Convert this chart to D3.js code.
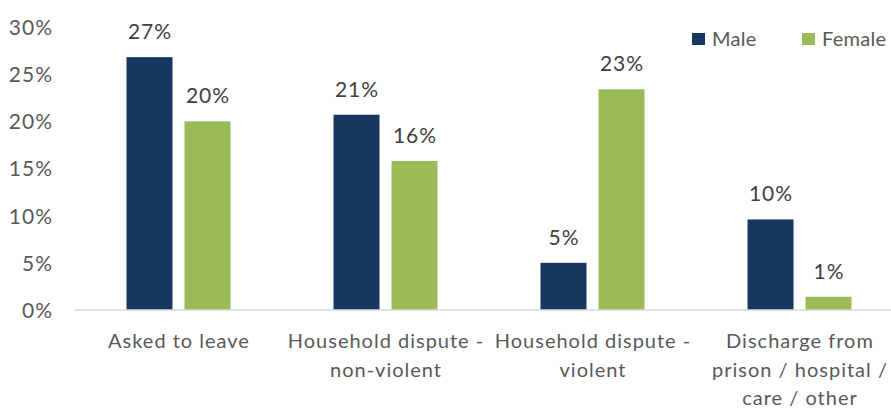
<!DOCTYPE html>
<html>
<head>
<meta charset="utf-8">
<script src="https://cdn.jsdelivr.net/npm/d3@7"></script>
<style>
  html, body { margin: 0; padding: 0; background: #fff; overflow: hidden; }
  svg { display: block; font-family: Lato, "Liberation Sans", sans-serif; }
  svg text { letter-spacing: 1px; }
  svg text.legend { letter-spacing: 0.3px; }
</style>
</head>
<body>
<svg id="chart" width="891" height="409"></svg>
<script>
// Reasons for leaving last settled accommodation, by gender (%)
const categories = [
  ["Asked to leave"],
  ["Household dispute -", "non-violent"],
  ["Household dispute -", "violent"],
  ["Discharge from", "prison / hospital /", "care / other"]
];
const series = ["Male", "Female"];
const maleValues = [26.8, 20.7, 5.0, 9.6];
const femaleValues = [20.0, 15.8, 23.4, 1.4];
const yTicks = [0, 5, 10, 15, 20, 25, 30];

const colors = { Male: "#17375E", Female: "#9BBB59" };
const values = { Male: maleValues, Female: femaleValues };
const fontSize = "20px";

const svg = d3.select("#chart");

const x0 = d3.scaleBand()
  .domain(d3.range(categories.length))
  .range([75, 903])
  .paddingInner(0).paddingOuter(0);

const x1 = d3.scaleBand()
  .domain(series)
  .range([0, x0.bandwidth()])
  .paddingInner(12 / 58)
  .paddingOuter(0.888);

const y = d3.scaleLinear().domain([0, 30]).range([310, 27]);

// Y axis tick labels (no axis line, no gridlines)
const yAxis = d3.axisLeft(y).tickValues(yTicks).tickSize(0).tickPadding(0)
  .tickFormat(d => d + "%");
const yg = svg.append("g").attr("transform", "translate(53,0)").call(yAxis);
yg.select(".domain").remove();
yg.selectAll("text")
  .attr("fill", "#595959")
  .style("font-size", "21px")
  .style("font-family", "Lato, 'Liberation Sans', sans-serif")
  .attr("dy", "0.35em");

// Bars
const groups = svg.append("g").selectAll("g")
  .data(categories.map((c, i) => i))
  .join("g")
  .attr("transform", i => `translate(${x0(i)},0)`);

groups.selectAll("rect")
  .data(i => series.map(s => ({ s, v: values[s][i] })))
  .join("rect")
  .attr("x", d => x1(d.s))
  .attr("width", x1.bandwidth())
  .attr("y", d => y(d.v))
  .attr("height", d => y(0) - y(d.v))
  .attr("fill", d => colors[d.s]);

// Data labels
groups.selectAll("text.val")
  .data(i => series.map(s => ({ s, v: values[s][i] })))
  .join("text")
  .attr("class", "val")
  .attr("x", d => x1(d.s) + x1.bandwidth() / 2 + 0.5)
  .attr("y", d => y(d.v) - 18)
  .attr("text-anchor", "middle")
  .attr("fill", "#404040")
  .style("font-size", "21px")
  .text(d => Math.round(d.v) + "%");

// Baseline
svg.append("line")
  .attr("x1", 75).attr("x2", 903)
  .attr("y1", y(0)).attr("y2", y(0))
  .attr("stroke", "#D9D9D9").attr("stroke-width", 1.5);

// Category labels (wrapped)
const xg = svg.append("g").selectAll("text")
  .data(categories)
  .join("text")
  .attr("x", (d, i) => x0(i) + x0.bandwidth() / 2 + 0.5)
  .attr("y", 348)
  .attr("text-anchor", "middle")
  .attr("fill", "#595959")
  .style("font-size", fontSize);
xg.selectAll("tspan")
  .data(d => d)
  .join("tspan")
  .attr("x", function () { return this.parentNode.getAttribute("x"); })
  .attr("dy", (d, j) => j === 0 ? 0 : 28.5)
  .text(d => d);

// Legend
const legend = svg.append("g");
const legendX = { Male: 692, Female: 802 };
series.forEach(s => {
  legend.append("rect")
    .attr("x", legendX[s]).attr("y", 33)
    .attr("width", 13).attr("height", 12)
    .attr("fill", colors[s]);
  legend.append("text")
    .attr("class", "legend")
    .attr("x", legendX[s] + 20).attr("y", 39)
    .attr("dy", "0.35em")
    .attr("fill", "#595959")
    .style("font-size", fontSize)
    .text(s);
});
</script>
</body>
</html>
